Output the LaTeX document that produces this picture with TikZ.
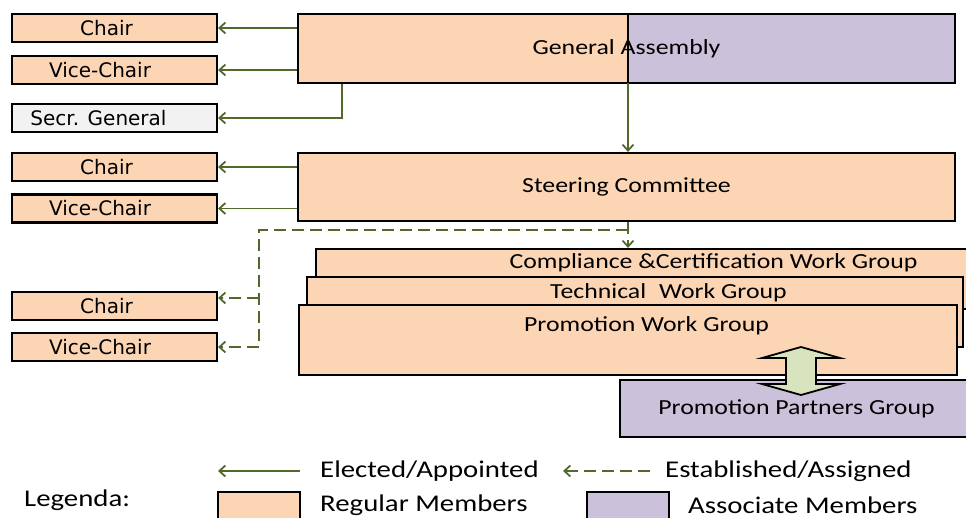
\documentclass[tikz,border=0pt]{standalone}
\usepackage{fontspec}
\setmainfont{Carlito}[FakeStretch=1.2]
\newfontfamily\boxfont{DejaVu Sans}
\usetikzlibrary{arrows.meta}

\definecolor{regular}{HTML}{FCD5B5}
\definecolor{associate}{HTML}{CCC1DA}
\definecolor{secretariat}{HTML}{F2F2F2}
\definecolor{link}{HTML}{52692B}
\definecolor{partner}{HTML}{D7E4BD}

\tikzset{
  box/.style={draw=black, line width=2.2bp, rectangle, inner sep=0pt},
  role/.style={box, fill=regular, minimum width=205bp, minimum height=28bp,
    font=\boxfont\fontsize{20bp}{24bp}\selectfont},
  group/.style={box, fill=regular},
  caption/.style={inner sep=0pt, font=\fontsize{21.5bp}{26bp}\selectfont},
  legendtext/.style={inner sep=0pt, anchor=west, font=\fontsize{24bp}{28bp}\selectfont},
  elected/.style={draw=link, line width=1.8bp, -{Straight Barb[length=6bp,width=11bp]}},
  assigned/.style={elected, dash pattern=on 12bp off 6bp},
}
% text pushed left inside a centred box
\newcommand{\lefted}[2]{#1\kern#2bp\relax}

\begin{document}
\begin{tikzpicture}[x=1bp,y=-1bp]
\useasboundingbox (0,0) rectangle (966,518);

% ---------- left column: officers ----------
\node[role] (chair1) at (114.5,28) {\lefted{Chair}{16}};
\node[role] (vice1)  at (114.5,70) {\lefted{Vice-Chair}{29}};
\node[role, fill=secretariat] (secr) at (114.5,118) {\lefted{Secr. General}{32}};
\node[role] (chair2) at (114.5,167) {\lefted{Chair}{16}};
\node[role] (vice2)  at (114.5,208.5) {\lefted{Vice-Chair}{29}};
\node[role] (chair3) at (114.5,306) {\lefted{Chair}{16}};
\node[role] (vice3)  at (114.5,347) {\lefted{Vice-Chair}{29}};

% ---------- General Assembly (regular + associate members) ----------
\fill[regular]   (298,14) rectangle (628,83);
\fill[associate] (628,14) rectangle (955,83);
\node[box, minimum width=657bp, minimum height=69bp, font=\fontsize{21.5bp}{26bp}\selectfont]
  (ga) at (626.5,48.5) {General Assembly};
\coordinate (split) at (628,83);
\draw[line width=2.2bp] (split) -- (split |- ga.north);

% ---------- Steering Committee ----------
\node[group, minimum width=657bp, minimum height=68bp, font=\fontsize{21.5bp}{26bp}\selectfont]
  (sc) at (626.5,187) {Steering Committee};

% ---------- work groups (stacked) ----------
\node[group, minimum width=674bp, minimum height=60bp] (cwg) at (653,279) {};
\node[group, minimum width=656bp, minimum height=70bp] (twg) at (635,312) {};
\node[group, minimum width=658bp, minimum height=70bp] (pwg) at (628,340) {};
\node[caption] (cwgtext) at (713.5,262.5) {Compliance \&Certification Work Group};
\node[caption] (twgtext) at (668.5,292.5) {Technical\hspace{0.6em}Work Group};
\node[caption] (pwgtext) at (646.5,325.5) {Promotion Work Group};

% ---------- Promotion Partners Group ----------
\node[box, fill=associate, minimum width=353bp, minimum height=57bp,
  font=\fontsize{21.5bp}{26bp}\selectfont] (ppg) at (796.5,408.5) {Promotion Partners Group};

% two-way link between the promotion groups
\draw[line width=1.8bp, fill=partner, line join=miter]
  (801,347) -- (840,358) -- (816,358) -- (816,384) -- (840,384) -- (801,395)
  -- (762,384) -- (786,384) -- (786,358) -- (762,358) -- cycle;

% ---------- elected / appointed ----------
\draw[elected] (ga.west |- chair1.east) -- (chair1.east);
\draw[elected] (ga.west |- vice1.east) -- (vice1.east);
\draw[elected] ([xshift=45bp]ga.south west) |- (secr.east);
\draw[elected] (split) -- (split |- sc.north);
\draw[elected] (sc.west |- chair2.east) -- (chair2.east);
\draw[elected] (sc.west |- vice2.east) -- (vice2.east);

% ---------- established / assigned ----------
\coordinate (branch) at (628,230);
\coordinate (spine) at (259,230);
\draw[assigned] (split |- sc.south) -- (split |- cwg.north);
\draw[assigned, -] (branch) -- (spine) -- (spine |- vice3.east);
\draw[assigned] (spine |- 0,298) -- ([yshift=8bp]chair3.east);
\draw[assigned] (spine |- vice3.east) -- (vice3.east);

% ---------- legend ----------
\coordinate (l1s) at (300,471);
\coordinate (l1e) at (218,471);
\coordinate (l2s) at (650,471);
\coordinate (l2e) at (563,471);
\draw[elected] (l1s) -- (l1e);
\draw[assigned] (l2s) -- (l2e);
\node[legendtext] (lel) at (320,471) {Elected/Appointed};
\node[legendtext] (las) at (665,471) {Established/Assigned};
\node[legendtext] (lhead) at (24,500) {Legenda:};
\node[box, fill=regular, minimum width=82bp, minimum height=34bp] (lreg) at (259,509) {};
\node[legendtext] (lregt) at (320,505) {Regular Members};
\node[box, fill=associate, minimum width=82bp, minimum height=34bp] (lass) at (628,509) {};
\node[legendtext] (lasst) at (688,505) {Associate Members};
\end{tikzpicture}
\end{document}
